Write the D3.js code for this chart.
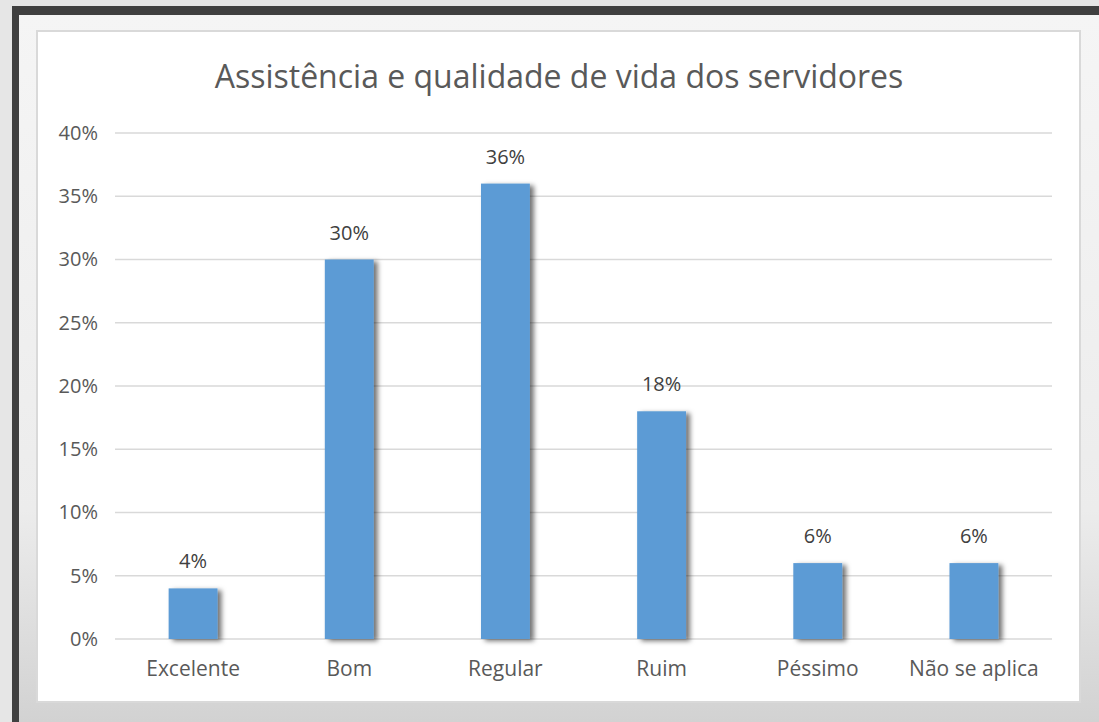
<!DOCTYPE html>
<html>
<head>
<meta charset="utf-8">
<script src="https://cdn.jsdelivr.net/npm/d3@7"></script>
<style>
  body { margin: 0; background: #e9e9e9; }
  svg { display: block; font-family: "Open Sans", sans-serif; }
</style>
</head>
<body>
<div id="chart-area"></div>
<script>
var categories = ["Excelente", "Bom", "Regular", "Ruim", "Péssimo", "Não se aplica"];
var values = [0.04, 0.30, 0.36, 0.18, 0.06, 0.06];
var yTicks = [0, 0.05, 0.10, 0.15, 0.20, 0.25, 0.30, 0.35, 0.40];
var title = "Assistência e qualidade de vida dos servidores";

var W = 1099, H = 722;
var svg = d3.select("#chart-area").append("svg")
    .attr("width", W)
    .attr("height", H);

var defs = svg.append("defs");
var grad = defs.append("linearGradient")
    .attr("id", "bg").attr("x1", 0).attr("y1", 0).attr("x2", 0).attr("y2", 1);
grad.append("stop").attr("offset", "0%").attr("stop-color", "#f5f5f5");
grad.append("stop").attr("offset", "70%").attr("stop-color", "#ececec");
grad.append("stop").attr("offset", "100%").attr("stop-color", "#d2d2d2");

var shadow = defs.append("filter").attr("id", "shadow")
    .attr("x", "-20%").attr("y", "-20%").attr("width", "150%").attr("height", "140%");
shadow.append("feDropShadow")
    .attr("dx", 4).attr("dy", 2).attr("stdDeviation", 2.5)
    .attr("flood-color", "#000").attr("flood-opacity", 0.55);

// frame and backdrop
svg.append("rect").attr("width", W).attr("height", H).attr("fill", "#e6e6e6");
svg.append("rect").attr("x", 12).attr("y", 6).attr("width", W - 12).attr("height", H - 6)
    .attr("fill", "#404040");
svg.append("rect").attr("x", 19).attr("y", 15).attr("width", W - 19).attr("height", H - 15)
    .attr("fill", "url(#bg)");

// chart area
svg.append("rect")
    .attr("x", 37).attr("y", 31).attr("width", 1043).attr("height", 671)
    .attr("fill", "#fff").attr("stroke", "#d9d9d9").attr("stroke-width", 2);

var margin = {left: 115, right: 1052, top: 133, bottom: 639};

var x = d3.scaleBand()
    .domain(categories)
    .range([margin.left, margin.right])
    .paddingInner(0.687)
    .paddingOuter(0.3435);

var y = d3.scaleLinear()
    .domain([0, 0.40])
    .range([margin.bottom, margin.top]);

var g = svg.append("g");

// gridlines
g.selectAll(".grid").data(yTicks).enter().append("line")
    .attr("class", "grid")
    .attr("x1", margin.left).attr("x2", margin.right)
    .attr("y1", d => y(d)).attr("y2", d => y(d))
    .attr("stroke", "#d9d9d9").attr("stroke-width", 1.5);

// y axis labels
var leftAxis = d3.axisLeft(y)
    .tickValues(yTicks)
    .tickSize(0)
    .tickPadding(17)
    .tickFormat(d3.format(".0%"));

g.append("g")
    .attr("transform", "translate(" + margin.left + ",0)")
    .call(leftAxis)
    .call(a => a.select(".domain").remove())
    .selectAll("text")
    .attr("font-size", "20px")
    .attr("font-family", "Open Sans, sans-serif")
    .attr("fill", "#595959");

// bars
g.selectAll(".bar").data(values).enter().append("rect")
    .attr("class", "bar")
    .attr("x", (d, i) => x(categories[i]))
    .attr("y", d => y(d))
    .attr("width", x.bandwidth())
    .attr("height", d => y(0) - y(d))
    .attr("fill", "#5b9bd5")
    .attr("filter", "url(#shadow)");

// data labels
g.selectAll(".label").data(values).enter().append("text")
    .attr("class", "label")
    .attr("x", (d, i) => x(categories[i]) + x.bandwidth() / 2)
    .attr("y", d => y(d) - 20)
    .attr("text-anchor", "middle")
    .attr("font-size", "20px")
    .attr("fill", "#404040")
    .text(d => Math.round(d * 100) + "%");

// x axis labels
var bottomAxis = d3.axisBottom(x).tickSize(0).tickPadding(22);
g.append("g")
    .attr("transform", "translate(0," + margin.bottom + ")")
    .call(bottomAxis)
    .call(a => a.select(".domain").remove())
    .selectAll("text")
    .attr("font-size", "21px")
    .attr("font-family", "Open Sans, sans-serif")
    .attr("fill", "#595959");

// title
svg.append("text")
    .attr("x", 559)
    .attr("y", 88)
    .attr("text-anchor", "middle")
    .attr("font-size", "32px")
    .attr("fill", "#595959")
    .text(title);
</script>
</body>
</html>
